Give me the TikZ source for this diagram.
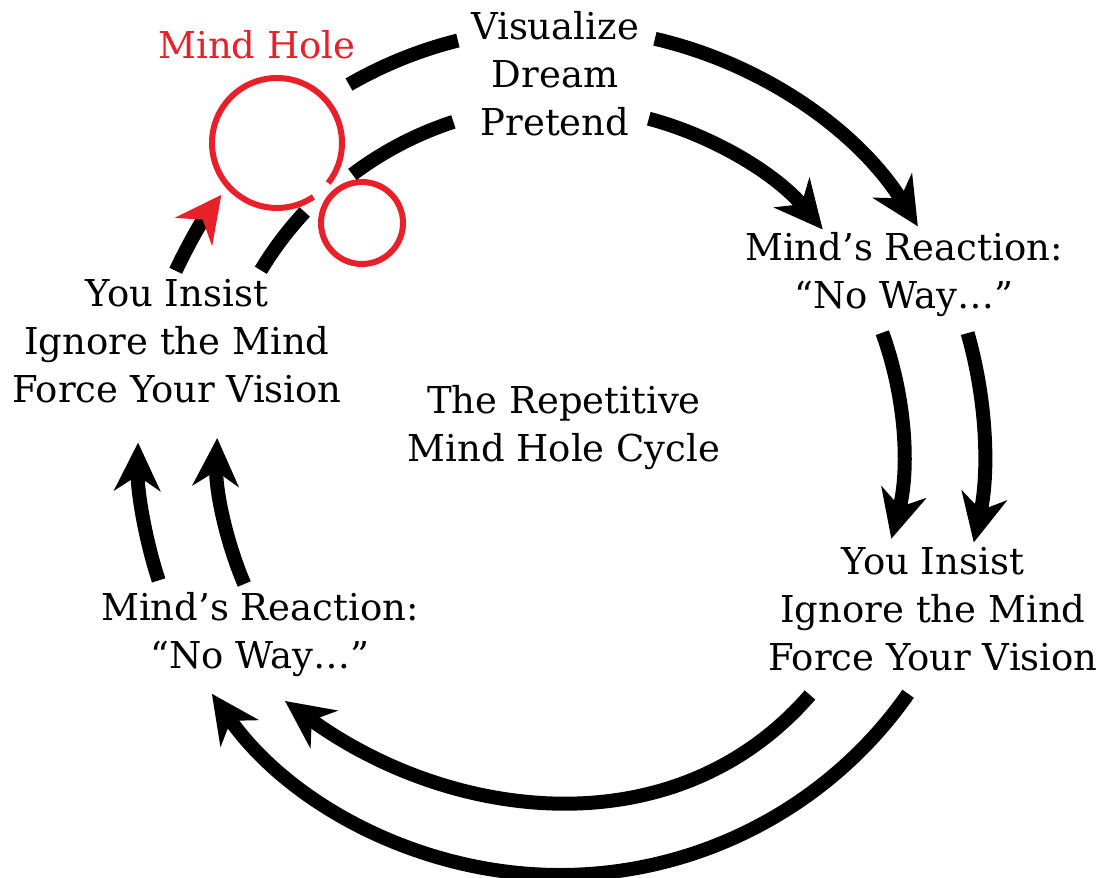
\documentclass[tikz,border=0pt]{standalone}
\usepackage{fontspec}
\setmainfont{DejaVu Serif}
\usepackage{xcolor}
\usepackage{tikz}
\usetikzlibrary{arrows.meta, calc}

\definecolor{holered}{HTML}{E8202A}

\tikzset{
  txt/.style={align=center, inner sep=0pt, font=\fontsize{37}{48}\selectfont},
  cycline/.style={line width=14pt},
  cyc/.style={cycline, -{Stealth[length=48pt, width=46pt, inset=15pt]}},
  hole/.style={draw=holered, line width=6pt}
}

\begin{document}
\begin{tikzpicture}[x=1pt, y=1pt]
    \useasboundingbox (0,0) rectangle (1104,-878);
    \coordinate (c) at (560,-450);

    % the texts round the cycle
    \node[txt] (vis) at (555,-74) {Visualize\\Dream\\Pretend};
    \node[txt] (rreact) at (904,-275) {Mind’s Reaction:\\“No Way…”};
    \node[txt] (rinsist) at (933,-609) {You Insist\\Ignore the Mind\\Force Your Vision};
    \node[txt] (lreact) at (260,-635) {Mind’s Reaction:\\“No Way…”};
    \node[txt] (linsist) at (177,-341) {You Insist\\Ignore the Mind\\Force Your Vision};
    \node[txt] (title) at (564,-428) {The Repetitive\\Mind Hole Cycle};
    \node[txt, text=holered] (holelbl) at (257,-45) {Mind Hole};

    % the mind hole
    \draw[hole] ([shift={(-38:65)}]277,-143) arc[start angle=-38, end angle=304, radius=65pt];
    \draw[hole] (362,-223) circle[radius=41pt];

    % outer ring
    \draw[cycline] ([shift={(120:422)}]c) arc[start angle=120, end angle=104, radius=422pt];
    \draw[cyc] ([shift={(77:422)}]c) arc[start angle=77, end angle=32, radius=422pt];
    \draw[cyc] ([shift={(16:424)}]c) arc[start angle=16, end angle=-12.6, radius=424pt];
    \draw[cyc] ([shift={(-35:425)}]c) arc[start angle=-35, end angle=-145, radius=425pt];
    \draw[cyc] ([shift={(198:422)}]c) arc[start angle=198, end angle=179, radius=422pt];
    \draw[cycline, -{Stealth[length=46pt, width=46pt, inset=15pt, color=holered]}]
        ([shift={(155:424)}]c) arc[start angle=155, end angle=143, radius=424pt];

    % inner ring
    \draw[cycline] ([shift={(127:345)}]c) arc[start angle=127, end angle=108, radius=345pt];
    \draw[cyc] ([shift={(75:343)}]c) arc[start angle=75, end angle=40, radius=343pt];
    \draw[cyc] ([shift={(20:343)}]c) arc[start angle=20, end angle=-15, radius=343pt];
    \coordinate (bi1) at (810,-695);
    \coordinate (bi2) at (285,-701);
    \draw[cyc] (bi1) to[out=229, in=-36] (bi2);
    \draw[cyc] ([shift={(203:343)}]c) arc[start angle=203, end angle=178, radius=343pt];
    \draw[cycline] ([shift={(149:349)}]c) arc[start angle=149, end angle=137, radius=349pt];
\end{tikzpicture}
\end{document}
